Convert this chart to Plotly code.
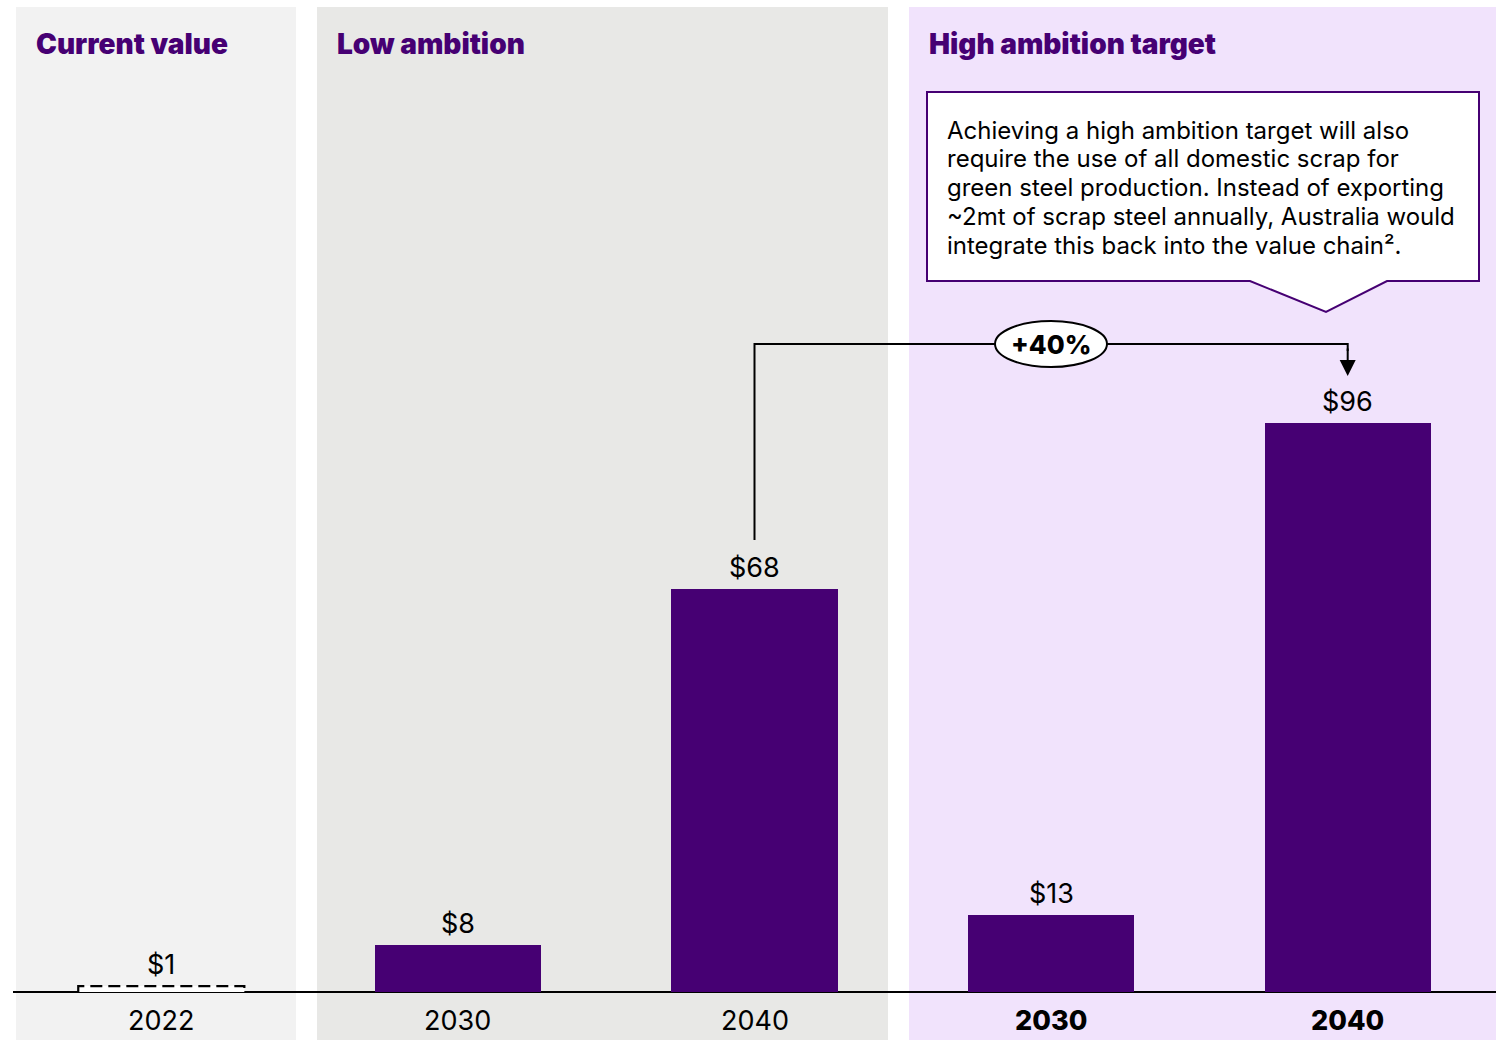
import plotly.graph_objects as go

# ---- data ----
scenarios = ["Current value", "Low ambition", "High ambition target"]
years = ["2022", "2030", "2040", "2030", "2040"]
values = [1, 8, 68, 13, 96]
value_labels = ["$1", "$8", "$68", "$13", "$96"]
bold_year = [False, False, False, True, True]
uplift_label = "+40%"
callout_lines = [
    "Achieving a high ambition target will also",
    "require the use of all domestic scrap for",
    "green steel production. Instead of exporting",
    "~2mt of scrap steel annually, Australia would",
    "integrate this back into the value chain².",
]

# ---- styling ----
PURPLE = "#460073"
BG = ["#f2f2f2", "#e8e8e6", "#f1e3fc"]
FONT = "Inter, Roboto, sans-serif"
BAR_W = 0.56

W, H = 1504, 1041
ML, MR, MT, MB = 13, 8, 7, 1
X_RANGE = [-0.5, 4.5]
Y_RANGE = [-8.1, 166.1]
PW, PH = W - ML - MR, H - MT - MB


def px_x(p):
    """pixel column -> x data value"""
    return X_RANGE[0] + (p - ML) / PW * (X_RANGE[1] - X_RANGE[0])


def px_y(p):
    """pixel row -> y data value"""
    return Y_RANGE[1] - (p - MT) / PH * (Y_RANGE[1] - Y_RANGE[0])


xs = list(range(len(values)))
fig = go.Figure()

# solid bars for the projections
fig.add_trace(go.Bar(
    x=xs[1:], y=values[1:], width=BAR_W,
    marker=dict(color=PURPLE, line=dict(width=0)),
    hoverinfo="skip", showlegend=False,
))

# current value drawn as a dashed outline
c, v = xs[0], values[0]
fig.add_trace(go.Scatter(
    x=[c - BAR_W / 2, c - BAR_W / 2, c + BAR_W / 2, c + BAR_W / 2],
    y=[0, v, v, 0], mode="lines", fill="toself", fillcolor="white",
    line=dict(color="black", width=2.2, dash="12px,6px"),
    hoverinfo="skip", showlegend=False,
))

shapes = []
# scenario panels
panels = [(16, 296), (317, 888), (909, 1496)]
for (a, b), col in zip(panels, BG):
    shapes.append(dict(type="rect", xref="x", yref="paper", x0=px_x(a), x1=px_x(b),
                       y0=0, y1=1, fillcolor=col, line=dict(width=0), layer="below"))

# callout box with pointer
bx0, bx1, by0, by1 = 927, 1479, 92, 281
path_px = [(bx0, by0), (bx1, by0), (bx1, by1), (1387, by1), (1326, 312),
           (1250, by1), (bx0, by1)]
path = "M " + " L ".join(f"{px_x(a)},{px_y(b)}" for a, b in path_px) + " Z"
shapes.append(dict(type="path", xref="x", yref="y", path=path,
                   fillcolor="white", line=dict(color=PURPLE, width=2), layer="above"))

# connector from the low-ambition 2040 bar to the high-ambition 2040 bar
y_top = px_y(344)
y_start = px_y(540)
shapes.append(dict(type="path", xref="x", yref="y",
                   path=f"M {xs[2]},{y_start} L {xs[2]},{y_top} L {xs[4]},{y_top} L {xs[4]},{y_top - 1.2}",
                   line=dict(color="black", width=2), layer="above"))
# uplift badge
ex, ey = 3, y_top
shapes.append(dict(type="circle", xref="x", yref="y",
                   x0=px_x(995), x1=px_x(1107), y0=px_y(367), y1=px_y(321),
                   fillcolor="white", line=dict(color="black", width=2), layer="above"))

annotations = []
# arrow head
annotations.append(dict(x=xs[4], y=px_y(376), ax=xs[4], ay=y_top - 0.5,
                        xref="x", yref="y", axref="x", ayref="y", text="",
                        showarrow=True, arrowhead=2, arrowsize=1.6, arrowwidth=2,
                        arrowcolor="black"))
annotations.append(dict(x=ex, y=ey, xref="x", yref="y", text=uplift_label,
                        showarrow=False,
                        font=dict(family=FONT, size=26, color="black", weight=800)))

# panel headers
for (a, _), name in zip(panels, scenarios):
    annotations.append(dict(x=px_x(a + 18), y=px_y(44), xref="x", yref="y",
                            xanchor="left", yanchor="middle", showarrow=False,
                            text=name,
                            font=dict(family=FONT, size=28, color=PURPLE, weight=900)))

# value labels and year labels
for x, v, lab, yr, b in zip(xs, values, value_labels, years, bold_year):
    annotations.append(dict(x=x, y=v, xref="x", yref="y", yanchor="bottom", yshift=3,
                            showarrow=False, text=lab,
                            font=dict(family=FONT, size=27, color="black")))
    annotations.append(dict(x=x, y=px_y(1020), xref="x", yref="y", yanchor="middle",
                            showarrow=False, text=yr,
                            font=dict(family=FONT, size=27, color="black",
                                      weight=800 if b else 400)))

# callout text, one annotation per line
for i, line in enumerate(callout_lines):
    annotations.append(dict(x=px_x(945), y=px_y(130 + i * 28.8), xref="x", yref="y",
                            xanchor="left", yanchor="middle", align="left",
                            showarrow=False, text=line,
                            font=dict(family=FONT, size=24, color="black")))

fig.update_layout(
    width=W, height=H,
    margin=dict(l=ML, r=MR, t=MT, b=MB, pad=0),
    paper_bgcolor="white", plot_bgcolor="rgba(0,0,0,0)",
    shapes=shapes, annotations=annotations,
    bargap=0, showlegend=False,
    xaxis=dict(range=X_RANGE, visible=False, fixedrange=True),
    yaxis=dict(range=Y_RANGE, showgrid=False, showticklabels=False, ticks="",
               zeroline=True, zerolinecolor="black", zerolinewidth=2, fixedrange=True),
)

fig.write_html("out.html", config={"displayModeBar": False})
